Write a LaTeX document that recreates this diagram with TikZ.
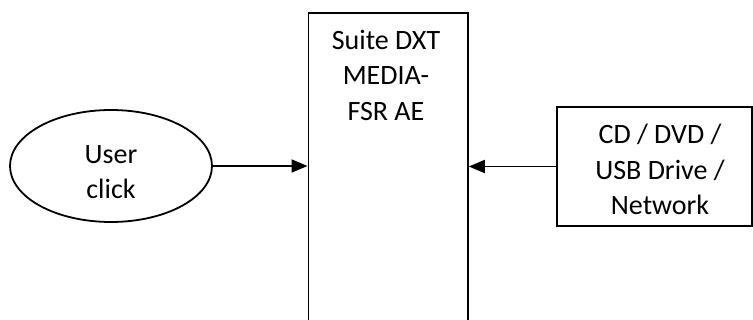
\documentclass[tikz,border=0pt]{standalone}
\usepackage{fontspec}
\setmainfont{Carlito}
\usetikzlibrary{shapes.geometric,arrows.meta}
\tikzset{
  lbl/.style={font=\fontsize{28pt}{35.5pt}\selectfont, align=center, inner sep=0pt, anchor=north},
  shapeline/.style={draw=black, line width=1.8pt},
  arr/.style={line width=1.8pt, -{Triangle[length=16pt,width=13pt]}}
}
\begin{document}
\begin{tikzpicture}[x=1pt,y=-1pt]
\useasboundingbox (0,0) rectangle (753,320);
\clip (0,0) rectangle (753,320);
\node[shapeline, ellipse, minimum width=202pt, minimum height=112pt, inner sep=0pt] (user) at (111,166) {};
\node[lbl] (usertext) at (111,145) {User\\click};
\node[shapeline, rectangle, minimum width=159.5pt, minimum height=330pt, anchor=north west, inner sep=0pt] (suite) at (307.5,12) {};
\node[lbl] (suitetext) at (386,30) {Suite DXT\\MEDIA-\\FSR AE};
\node[shapeline, rectangle, minimum width=195pt, minimum height=119pt, inner sep=0pt] (src) at (654.5,166.5) {};
\node[lbl] (srctext) at (660,124) {CD / DVD /\\USB Drive /\\Network};
\draw[arr] (user.east) -- (user.east -| suite.west);
\draw[arr] (src.west) -- (src.west -| suite.east);
\end{tikzpicture}
\end{document}
